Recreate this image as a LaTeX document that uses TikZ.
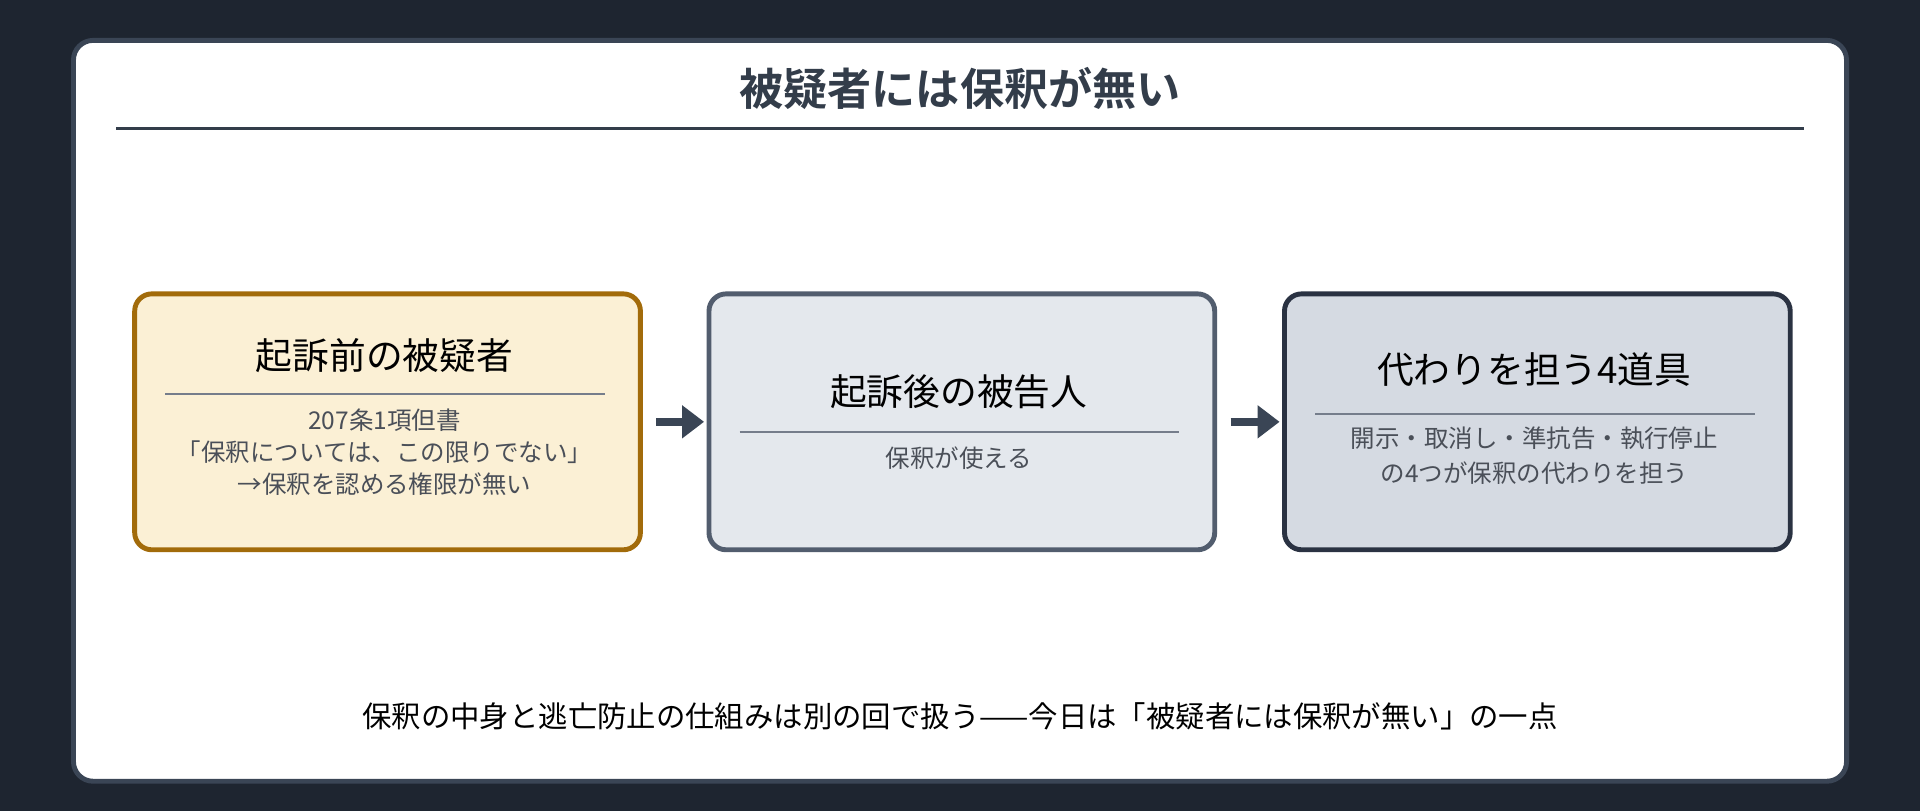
\documentclass[tikz,border=0pt]{standalone}
\usepackage{fontspec}
\setmainfont{Noto Sans CJK JP}
\newfontfamily\cjkb{Noto Sans CJK JP}[BoldFont={* Bold}]
\usetikzlibrary{arrows.meta}
\definecolor{bg}{HTML}{1E2530}
\definecolor{frame}{HTML}{3A4555}
\definecolor{ink}{HTML}{333D4A}
\definecolor{body}{HTML}{4A4F58}
\definecolor{f1}{HTML}{FBF0D5}\definecolor{b1}{HTML}{A26B0A}
\definecolor{f2}{HTML}{E4E8ED}\definecolor{b2}{HTML}{525D6E}
\definecolor{f3}{HTML}{D5DAE2}\definecolor{b3}{HTML}{2A3242}
\begin{document}
\begin{tikzpicture}[x=0.5pt,y=-0.5pt,
  box/.style={draw,line width=2pt,rounded corners=7pt,minimum width=206.5pt,minimum height=104.5pt,anchor=north west},
  ttl/.style={font=\fontsize{15}{18}\selectfont,text=black},
  txt/.style={font=\fontsize{10}{12}\selectfont,text=body},
  sep/.style={draw=b2!80,line width=0.8pt},
  arr/.style={draw=frame,line width=3.5pt,-{Triangle[length=9pt,width=13pt]},shorten <=5.5pt,shorten >=1pt}]
\useasboundingbox (0,0) rectangle (1568,662);
\fill[bg] (0,0) rectangle (1568,662);
\draw[frame,fill=white,line width=2pt,rounded corners=8pt] (60,33) rectangle (1508,638);
\node[font=\cjkb\bfseries\fontsize{18}{22}\selectfont,text=ink] (title) at (784,72) {被疑者には保釈が無い};
\draw[ink,line width=1pt] (95,105) -- (1473,105);
\node[box,fill=f1,draw=b1] (n1) at (108,238) {};
\node[box,fill=f2,draw=b2] (n2) at (577,238) {};
\node[box,fill=f3,draw=b3] (n3) at (1047,238) {};
\node[ttl] (t1) at (314,290) {起訴前の被疑者};
\draw[sep] (135,322) -- (494,322);
\node[txt] (a1) at (314,343) {207条1項但書};
\node[txt] (a2) at (314,369) {「保釈については、この限りでない」};
\node[txt] (a3) at (314,395) {→保釈を認める権限が無い};
\node[ttl] (t2) at (783,320) {起訴後の被告人};
\draw[sep] (604,353) -- (963,353);
\node[txt] (b1t) at (783,374) {保釈が使える};
\node[ttl] (t3) at (1253,302) {代わりを担う4道具};
\draw[sep] (1074,338) -- (1433,338);
\node[txt] (c1) at (1253,358) {開示・取消し・準抗告・執行停止};
\node[txt] (c2) at (1253,386) {の4つが保釈の代わりを担う};
\draw[arr] (n1.east) -- (n2.west);
\draw[arr] (n2.east) -- (n3.west);
\node[font=\fontsize{12}{14}\selectfont,text=black] (foot) at (784,585) {保釈の中身と逃亡防止の仕組みは別の回で扱う——今日は「被疑者には保釈が無い」の一点};
\end{tikzpicture}
\end{document}
